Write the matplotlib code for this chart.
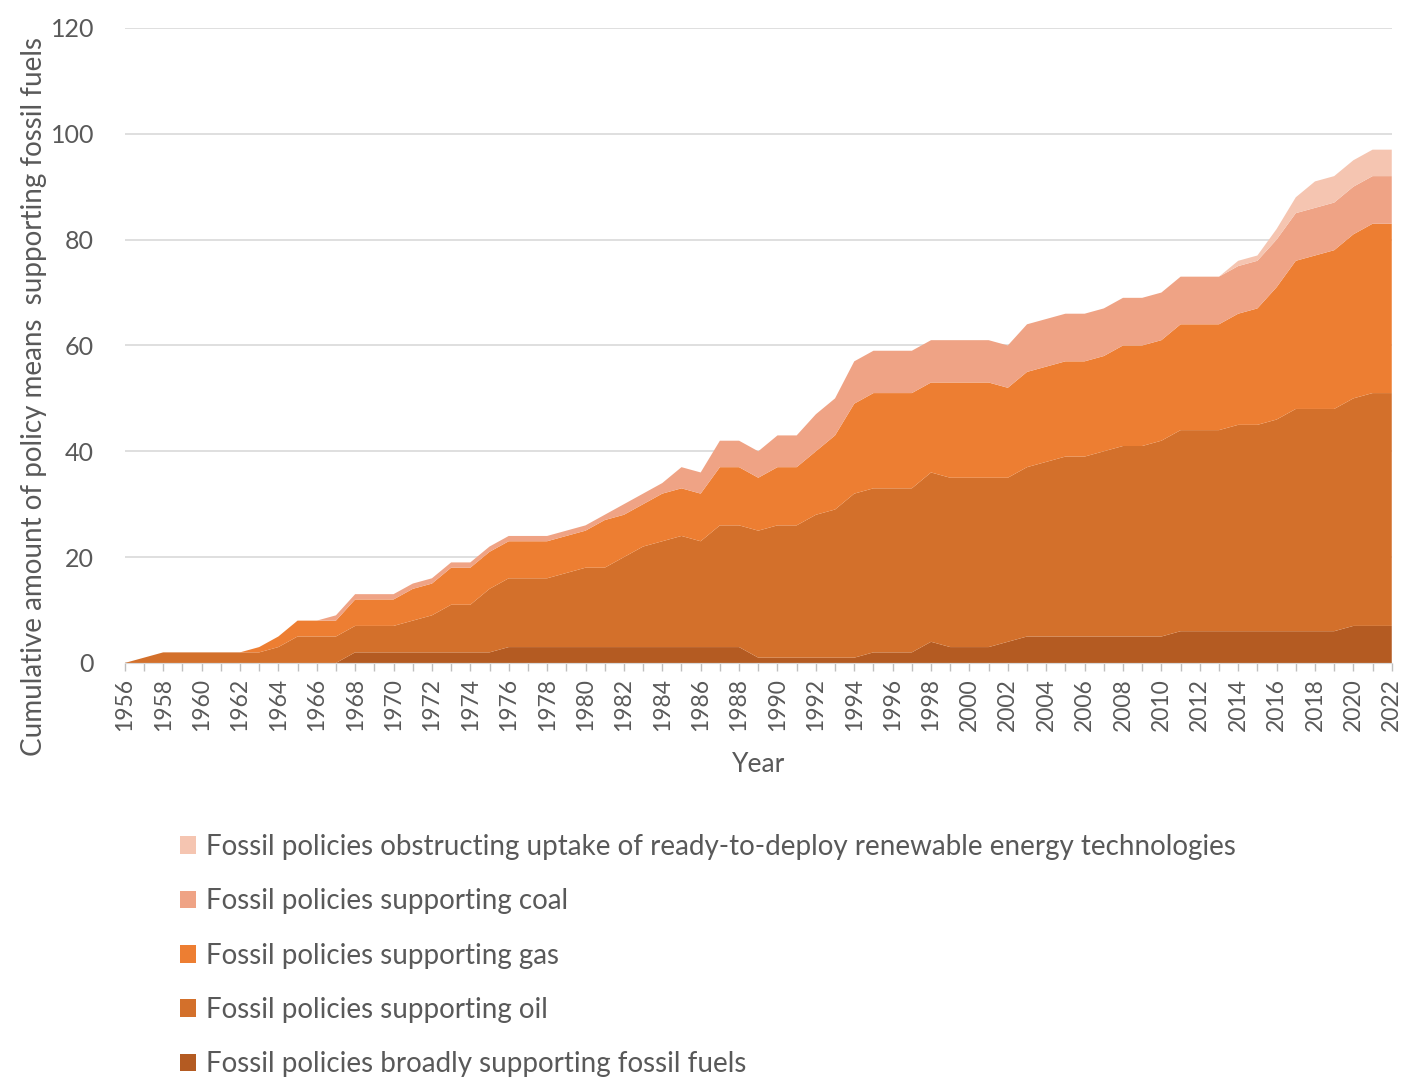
import matplotlib.pyplot as plt
import numpy as np

plt.rcParams['font.family'] = ['Lato', 'DejaVu Sans']

years = np.arange(1956, 2023)

# number of policy means per category, stacked
broad = [0, 0, 0, 0, 0, 0, 0, 0, 0, 0, 0, 0, 2, 2, 2, 2, 2, 2, 2, 2,
         3, 3, 3, 3, 3, 3, 3, 3, 3, 3, 3, 3, 3, 1, 1, 1, 1, 1, 1, 2,
         2, 2, 4, 3, 3, 3, 4, 5, 5, 5, 5, 5, 5, 5, 5, 6, 6, 6, 6, 6,
         6, 6, 6, 6, 7, 7, 7]
oil = [0, 1, 2, 2, 2, 2, 2, 2, 3, 5, 5, 5, 5, 5, 5, 6, 7, 9, 9, 12,
       13, 13, 13, 14, 15, 15, 17, 19, 20, 21, 20, 23, 23, 24, 25, 25, 27, 28, 31, 31,
       31, 31, 32, 32, 32, 32, 31, 32, 33, 34, 34, 35, 36, 36, 37, 38, 38, 38, 39, 39,
       40, 42, 42, 42, 43, 44, 44]
gas = [0, 0, 0, 0, 0, 0, 0, 1, 2, 3, 3, 3, 5, 5, 5, 6, 6, 7, 7, 7,
       7, 7, 7, 7, 7, 9, 8, 8, 9, 9, 9, 11, 11, 10, 11, 11, 12, 14, 17, 18,
       18, 18, 17, 18, 18, 18, 17, 18, 18, 18, 18, 18, 19, 19, 19, 20, 20, 20, 21, 22,
       25, 28, 29, 30, 31, 32, 32]
coal = [0, 0, 0, 0, 0, 0, 0, 0, 0, 0, 0, 1, 1, 1, 1, 1, 1, 1, 1, 1,
        1, 1, 1, 1, 1, 1, 2, 2, 2, 4, 4, 5, 5, 5, 6, 6, 7, 7, 8, 8,
        8, 8, 8, 8, 8, 8, 8, 9, 9, 9, 9, 9, 9, 9, 9, 9, 9, 9, 9, 9,
        9, 9, 9, 9, 9, 9, 9]
obstructing = [0] * 58 + [1, 1, 2, 3, 5, 5, 5, 5, 5]

labels = ['Fossil policies broadly supporting fossil fuels',
          'Fossil policies supporting oil',
          'Fossil policies supporting gas',
          'Fossil policies supporting coal',
          'Fossil policies obstructing uptake of ready-to-deploy renewable energy technologies']
colors = ['#B45B22', '#D3702B', '#ED7E32', '#EFA385', '#F5C5B1']

fig = plt.figure(figsize=(14.18, 10.92), dpi=100)
ax = fig.add_axes([0.088, 0.3929, 0.8935, 0.5815])

polys = ax.stackplot(years, broad, oil, gas, coal, obstructing,
                     labels=labels, colors=colors, linewidth=0)

grey = '#595959'
ax.set_xlim(1956, 2022)
ax.set_ylim(0, 120)
ax.set_yticks(np.arange(0, 121, 20))
ax.yaxis.grid(True, color='#D9D9D9', linewidth=1.2)
ax.set_axisbelow(True)
for s in ['top', 'right', 'left']:
    ax.spines[s].set_visible(False)
ax.spines['bottom'].set_color('#D9D9D9')

ax.set_xticks(years)
ax.set_xticklabels([str(y) if y % 2 == 0 else '' for y in years], rotation=90)
ax.tick_params(axis='x', colors='#BFBFBF', length=6, width=1, pad=5, labelcolor=grey, labelsize=16.5)
ax.tick_params(axis='y', length=0, pad=22, labelcolor=grey, labelsize=18)

ax.set_xlabel('Year', color=grey, fontsize=19, labelpad=15)
ax.set_ylabel('Cumulative amount of policy means  supporting fossil fuels', color=grey, fontsize=20)
ax.yaxis.set_label_coords(-0.061, 0.42)

fig.legend(polys[::-1], labels[::-1], loc='upper left',
           bbox_to_anchor=(0.117, 0.249), frameon=False, fontsize=20,
           handlelength=0.6, handleheight=0.6, handletextpad=0.35,
           labelspacing=1.02, labelcolor=grey, borderpad=0)

plt.savefig('out.png', dpi=100)
